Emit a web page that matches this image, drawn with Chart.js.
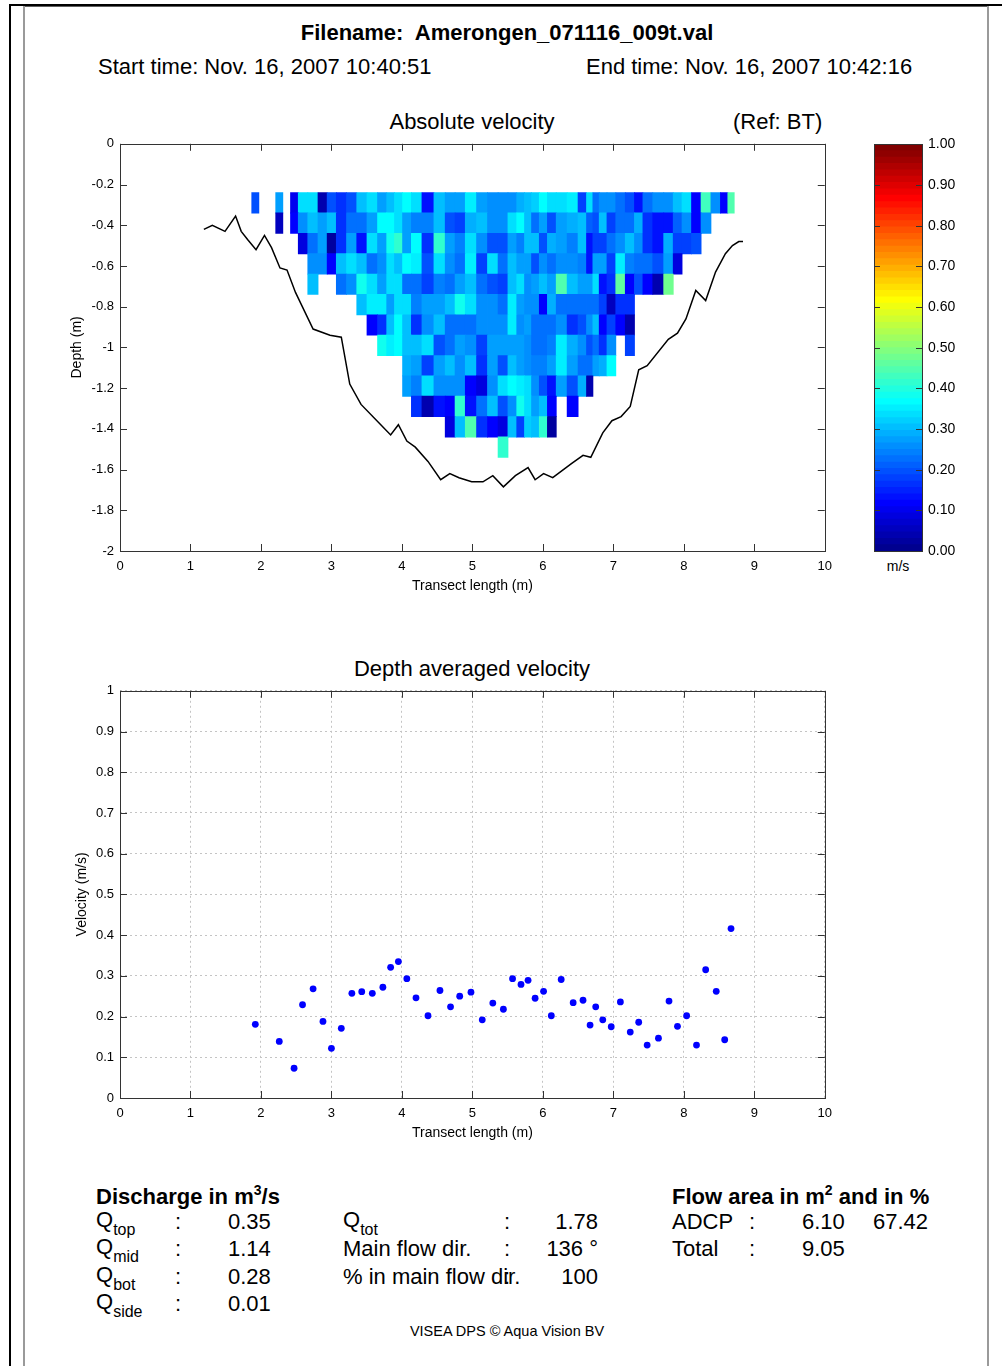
<!DOCTYPE html>
<html>
<head>
<meta charset="utf-8">
<title>Amerongen_071116_009t</title>
<script src="https://cdn.jsdelivr.net/npm/chart.js@4.4.1/dist/chart.umd.min.js"></script>
<style>
  body { margin: 0; background: #fff; }
  #page { position: relative; width: 1002px; height: 1366px; overflow: hidden; background: #fff;
          font-family: "Liberation Sans", Arial, sans-serif; color: #000; }
  .t { position: absolute; white-space: pre; line-height: 1; font-size: 22px; }
  .b { font-weight: bold; }
  .sub { font-size: 16px; position: relative; top: 8px; }
  .sup { font-size: 14px; position: relative; top: -9px; }
  .ln { position: absolute; }
  canvas { position: absolute; }
</style>
</head>
<body>
<div id="page">
  <!-- page frame -->
  <div class="ln" style="left:9px;top:4px;width:993px;height:2px;background:#000"></div>
  <div class="ln" style="left:9px;top:4px;width:2px;height:1362px;background:#000"></div>
  <div class="ln" style="left:23px;top:6px;width:966px;height:1px;background:#606060"></div>
  <div class="ln" style="left:23px;top:6px;width:2px;height:1360px;background:#9a9a9a"></div>
  <div class="ln" style="left:987px;top:6px;width:2px;height:1360px;background:#9a9a9a"></div>

  <!-- header -->
  <div class="t b" style="left:0;width:1014px;text-align:center;top:22px">Filename:  Amerongen_071116_009t.val</div>
  <div class="t" style="left:98px;top:56px">Start time: Nov. 16, 2007 10:40:51</div>
  <div class="t" style="left:586px;top:56px">End time: Nov. 16, 2007 10:42:16</div>

  <div class="t" style="left:0;width:944px;text-align:center;top:111px">Absolute velocity</div>
  <div class="t" style="left:733px;top:111px">(Ref: BT)</div>
  <div class="t" style="left:848px;width:100px;text-align:center;top:559px;font-size:14px">m/s</div>
  <div class="t" style="left:0;width:944px;text-align:center;top:658px">Depth averaged velocity</div>

  <canvas id="velChart" width="780" height="470" style="left:60px;top:130px"></canvas>
  <canvas id="barChart" width="120" height="460" style="left:860px;top:130px"></canvas>
  <canvas id="avgChart" width="780" height="470" style="left:60px;top:677px"></canvas>

  <!-- discharge table -->
  <div class="t b" style="left:96px;top:1186px">Discharge in m<span class="sup">3</span>/s</div>
  <div class="t" style="left:96px;top:1209px">Q<span class="sub">top</span></div>
  <div class="t" style="left:96px;top:1236px">Q<span class="sub">mid</span></div>
  <div class="t" style="left:96px;top:1264px">Q<span class="sub">bot</span></div>
  <div class="t" style="left:96px;top:1291px">Q<span class="sub">side</span></div>
  <div class="t" style="left:175px;top:1211px">:</div>
  <div class="t" style="left:175px;top:1238px">:</div>
  <div class="t" style="left:175px;top:1266px">:</div>
  <div class="t" style="left:175px;top:1293px">:</div>
  <div class="t" style="left:228px;top:1211px">0.35</div>
  <div class="t" style="left:228px;top:1238px">1.14</div>
  <div class="t" style="left:228px;top:1266px">0.28</div>
  <div class="t" style="left:228px;top:1293px">0.01</div>

  <div class="t" style="left:343px;top:1209px">Q<span class="sub">tot</span></div>
  <div class="t" style="left:343px;top:1238px">Main flow dir.</div>
  <div class="t" style="left:343px;top:1266px">% in main flow dir.</div>
  <div class="t" style="left:504px;top:1211px">:</div>
  <div class="t" style="left:504px;top:1238px">:</div>
  <div class="t" style="left:504px;top:1266px">:</div>
  <div class="t" style="left:498px;width:100px;text-align:right;top:1211px">1.78</div>
  <div class="t" style="left:498px;width:100px;text-align:right;top:1238px">136 °</div>
  <div class="t" style="left:498px;width:100px;text-align:right;top:1266px">100</div>

  <div class="t b" style="left:672px;top:1186px">Flow area in m<span class="sup">2</span> and in %</div>
  <div class="t" style="left:672px;top:1211px">ADCP</div>
  <div class="t" style="left:672px;top:1238px">Total</div>
  <div class="t" style="left:749px;top:1211px">:</div>
  <div class="t" style="left:749px;top:1238px">:</div>
  <div class="t" style="left:802px;top:1211px">6.10</div>
  <div class="t" style="left:873px;top:1211px">67.42</div>
  <div class="t" style="left:802px;top:1238px">9.05</div>

  <div class="t" style="left:0;width:1014px;text-align:center;top:1324px;font-size:14.5px">VISEA DPS © Aqua Vision BV</div>
</div>

<script>
// axis ticks
const lengthTicks = [0, 1, 2, 3, 4, 5, 6, 7, 8, 9, 10];
const depthTicks = [0, -0.2, -0.4, -0.6, -0.8, -1, -1.2, -1.4, -1.6, -1.8, -2];
const velTicks = [0, 0.1, 0.2, 0.3, 0.4, 0.5, 0.6, 0.7, 0.8, 0.9, 1];
const cbTicks = [0, 0.1, 0.2, 0.3, 0.4, 0.5, 0.6, 0.7, 0.8, 0.9, 1];

// ensemble positions along the transect (m) and depth averaged velocity (m/s)
const ensX = [1.92, 2.26, 2.47, 2.59, 2.74, 2.88, 3.00, 3.14, 3.29, 3.43,
              3.58, 3.73, 3.84, 3.95, 4.07, 4.20, 4.37, 4.54, 4.69, 4.82,
              4.98, 5.14, 5.29, 5.44, 5.57, 5.69, 5.79, 5.89, 6.01, 6.12,
              6.26, 6.43, 6.57, 6.67, 6.75, 6.85, 6.97, 7.10, 7.24, 7.36,
              7.48, 7.64, 7.79, 7.91, 8.04, 8.18, 8.31, 8.46, 8.58, 8.67];
const depthAvgVel = [0.181, 0.139, 0.073, 0.229, 0.268, 0.188, 0.122, 0.171, 0.257, 0.261,
                     0.257, 0.272, 0.321, 0.335, 0.293, 0.246, 0.202, 0.264, 0.224, 0.250,
                     0.260, 0.192, 0.233, 0.218, 0.293, 0.279, 0.289, 0.245, 0.262, 0.202,
                     0.291, 0.234, 0.240, 0.179, 0.224, 0.192, 0.175, 0.236, 0.162, 0.186,
                     0.130, 0.147, 0.238, 0.176, 0.202, 0.130, 0.315, 0.262, 0.143, 0.416];

// depth cells (centre, m) and the first ensemble that has a value in that cell
const cellDepth = [-0.29, -0.39, -0.49, -0.59, -0.69, -0.79, -0.89, -0.99, -1.09, -1.19, -1.29, -1.39, -1.49];
const rowStart = [0, 1, 3, 4, 4, 9, 10, 11, 14, 14, 15, 18, 23];

// absolute velocity per cell (m/s), one row per depth cell
const cellVel = [
  [0.19, 0.27, 0.10, 0.34, 0.33, 0.04, 0.20, 0.17, 0.20, 0.31, 0.33, 0.27, 0.31, 0.33, 0.37, 0.33, 0.13, 0.31, 0.27, 0.28, 0.35, 0.27,
   0.26, 0.25, 0.25, 0.29, 0.31, 0.32, 0.36, 0.33, 0.34, 0.35, 0.18, 0.33, 0.23, 0.25, 0.25, 0.23, 0.20, 0.14, 0.23, 0.25, 0.25, 0.31, 0.33, 0.11, 0.43, 0.25, 0.12, 0.45],
  [0.05, 0.12, 0.25, 0.31, 0.28, 0.31, 0.17, 0.22, 0.23, 0.27, 0.36, 0.36, 0.33, 0.27, 0.24, 0.24, 0.31, 0.20, 0.18, 0.29, 0.31,
   0.26, 0.26, 0.34, 0.36, 0.31, 0.23, 0.27, 0.20, 0.28, 0.29, 0.30, 0.21, 0.20, 0.30, 0.18, 0.23, 0.23, 0.29, 0.16, 0.14, 0.14, 0.21, 0.26, 0.12, 0.26],
  [0.08, 0.22, 0.27, 0.02, 0.17, 0.27, 0.13, 0.34, 0.28, 0.38, 0.42, 0.27, 0.37, 0.16, 0.41, 0.27, 0.24, 0.33, 0.26,
   0.20, 0.19, 0.27, 0.24, 0.31, 0.31, 0.20, 0.29, 0.27, 0.24, 0.31, 0.14, 0.18, 0.18, 0.22, 0.25, 0.31, 0.26, 0.16, 0.14, 0.29, 0.18, 0.18, 0.20],
  [0.25, 0.25, 0.11, 0.31, 0.34, 0.31, 0.23, 0.25, 0.33, 0.31, 0.36, 0.35, 0.20, 0.33, 0.25, 0.22, 0.35, 0.18,
   0.33, 0.22, 0.31, 0.27, 0.27, 0.20, 0.26, 0.22, 0.25, 0.25, 0.24, 0.13, 0.28, 0.27, 0.18, 0.35, 0.24, 0.23, 0.22, 0.20, 0.27, 0.08],
  [0.30, null, null, 0.22, 0.25, 0.38, 0.33, 0.28, 0.33, 0.33, 0.23, 0.22, 0.18, 0.24, 0.22, 0.27, 0.31, 0.22,
   0.20, 0.18, 0.31, 0.33, 0.26, 0.27, 0.31, 0.28, 0.44, 0.31, 0.28, 0.28, 0.33, 0.14, 0.16, 0.46, 0.12, 0.20, 0.11, 0.04, 0.48],
  [0.30, 0.35, 0.35, 0.28, 0.33, 0.34, 0.24, 0.27, 0.27, 0.30, 0.38, 0.33, 0.25,
   0.25, 0.22, 0.35, 0.27, 0.26, 0.26, 0.12, 0.29, 0.23, 0.23, 0.22, 0.23, 0.23, 0.18, 0.06, 0.16, 0.16],
  [0.11, 0.16, 0.31, 0.36, 0.31, 0.16, 0.25, 0.30, 0.22, 0.23, 0.23, 0.25,
   0.25, 0.25, 0.35, 0.25, 0.27, 0.23, 0.22, 0.23, 0.25, 0.16, 0.20, 0.25, 0.31, 0.12, 0.18, 0.11, 0.04],
  [0.38, 0.35, 0.36, 0.31, 0.31, 0.33, 0.20, 0.23, 0.27, 0.25, 0.18,
   0.27, 0.27, 0.27, 0.27, 0.26, 0.22, 0.23, 0.24, 0.35, 0.29, 0.26, 0.20, 0.23, 0.16, 0.25, null, 0.18],
  [0.29, 0.27, 0.18, 0.27, 0.31, 0.25, 0.30, 0.16,
   0.27, 0.20, 0.31, 0.27, 0.26, 0.24, 0.24, 0.27, 0.35, 0.27, 0.23, 0.23, 0.27, 0.29, 0.36],
  [0.27, 0.24, 0.33, 0.26, 0.26, 0.25, 0.12, 0.08,
   0.26, 0.33, 0.36, 0.35, 0.33, 0.25, 0.20, 0.14, 0.27, 0.20, 0.29, 0.04],
  [0.16, 0.04, 0.13, 0.12, 0.42, 0.14, 0.23,
   0.30, 0.20, 0.25, 0.38, 0.33, 0.27, 0.30, 0.11, null, 0.11],
  [0.08, 0.31, 0.44, 0.16, 0.12, 0.09, 0.31, 0.18, 0.32, 0.31, 0.41, 0.03],
  [0.42]
];

// bottom profile
const bedX = [1.19, 1.31, 1.49, 1.64, 1.72, 1.81, 1.93, 2.05, 2.15, 2.27, 2.37, 2.49, 2.74, 2.98,
              3.14, 3.26, 3.42, 3.70, 3.84, 3.95, 4.07, 4.19, 4.37, 4.55, 4.68, 4.81, 4.99, 5.15,
              5.29, 5.44, 5.61, 5.79, 5.89, 6.01, 6.14, 6.41, 6.57, 6.68, 6.85, 6.98, 7.11, 7.24,
              7.36, 7.48, 7.78, 7.91, 8.03, 8.17, 8.31, 8.45, 8.59, 8.69, 8.78, 8.84];
const bedY = [-0.42, -0.40, -0.43, -0.355, -0.43, -0.47, -0.52, -0.45, -0.51, -0.61, -0.62, -0.73, -0.91, -0.94,
              -0.95, -1.18, -1.28, -1.38, -1.43, -1.38, -1.46, -1.49, -1.56, -1.65, -1.62, -1.64, -1.66, -1.66,
              -1.63, -1.685, -1.63, -1.59, -1.65, -1.62, -1.64, -1.57, -1.53, -1.54, -1.42, -1.36, -1.34, -1.29,
              -1.11, -1.09, -0.96, -0.93, -0.86, -0.72, -0.77, -0.63, -0.54, -0.50, -0.48, -0.48];

Chart.defaults.font.family = '"Liberation Sans", Arial, sans-serif';
Chart.defaults.color = '#000';

// MATLAB jet(64), k = 1..64
function jet64(k) {
  const n = 16, u = [];
  for (let i = 1; i <= n; i++) u.push(i / n);
  for (let i = 1; i < n; i++) u.push(1);
  for (let i = n; i >= 1; i--) u.push(i / n);
  const ch = j => (j >= 1 && j <= u.length ? u[j - 1] : 0);
  const r = ch(k - 24), g = ch(k - 8), b = ch(k + 8);
  return `rgb(${Math.round(r * 255)},${Math.round(g * 255)},${Math.round(b * 255)})`;
}
function velColor(v) {
  const k = Math.min(64, Math.max(1, Math.floor(v * 64) + 1));
  return jet64(k);
}

// a cell reaches halfway to its neighbours, isolated ensembles get 0.1 m
function cellEdges(i) {
  const last = ensX.length - 1;
  const gapR = i < last ? ensX[i + 1] - ensX[i] : ensX[i] - ensX[i - 1];
  const gapL = i > 0 ? ensX[i] - ensX[i - 1] : gapR;
  const half = g => (g > 0.19 ? 0.05 : g / 2);
  return [ensX[i] - half(gapL), ensX[i] + half(gapR)];
}

const cells = [], cellColors = [];
cellVel.forEach((row, r) => {
  row.forEach((v, j) => {
    if (v === null) return;
    cells.push({ y: cellDepth[r], x: cellEdges(rowStart[r] + j) });
    cellColors.push(velColor(v));
  });
});

// box with inward tick marks, MATLAB style
const boxTicks = {
  id: 'boxTicks',
  afterDraw(chart, args, opts) {
    const { ctx, chartArea: a, scales } = chart;
    const len = opts.len;
    ctx.save();
    ctx.strokeStyle = opts.color;
    ctx.lineWidth = 1;
    ctx.beginPath();
    if (opts.xTicks) {
      scales.x.ticks.forEach(t => {
        const px = Math.round(scales.x.getPixelForValue(t.value)) + 0.5;
        ctx.moveTo(px, a.bottom); ctx.lineTo(px, a.bottom - len);
        ctx.moveTo(px, a.top); ctx.lineTo(px, a.top + len);
      });
    }
    scales.y.ticks.forEach(t => {
      const py = Math.round(scales.y.getPixelForValue(t.value)) + 0.5;
      ctx.moveTo(a.left, py); ctx.lineTo(a.left + len, py);
      ctx.moveTo(a.right, py); ctx.lineTo(a.right - len, py);
    });
    ctx.stroke();
    ctx.strokeRect(Math.round(a.left) + 0.5, Math.round(a.top) + 0.5,
                   Math.round(a.right - a.left), Math.round(a.bottom - a.top));
    ctx.restore();
  }
};

const tickFont = { size: 13 };
const titleFont = { size: 14 };

function xAxis(extra) {
  return Object.assign({
    type: 'linear', min: 0, max: 10, offset: false,
    afterBuildTicks: s => { s.ticks = lengthTicks.map(v => ({ value: v })); },
    afterFit: s => { s.height = 49; },
    ticks: { font: tickFont, padding: 8, callback: v => String(v) },
    title: { display: true, text: 'Transect length (m)', font: titleFont, padding: { top: 0, bottom: 5 } },
    grid: { display: false, drawTicks: false },
    border: { display: false }
  }, extra);
}

// absolute velocity section
new Chart(document.getElementById('velChart'), {
  type: 'bar',
  data: {
    datasets: [
      {
        type: 'line',
        data: bedX.map((x, i) => ({ x, y: bedY[i] })),
        borderColor: '#000', borderWidth: 1.5, pointRadius: 0, tension: 0, fill: false, order: 0
      },
      {
        type: 'bar',
        indexAxis: 'y',
        data: cells,
        backgroundColor: cellColors,
        borderWidth: 0, barPercentage: 1, categoryPercentage: 1, inflateAmount: 0.4, order: 1
      }
    ]
  },
  options: {
    responsive: false,
    animation: false,
    events: [],
    layout: { padding: { left: 0, top: 12, right: 15, bottom: 0 } },
    scales: {
      x: xAxis({ grid: { display: false, drawTicks: false, offset: false } }),
      y: {
        type: 'linear', min: -2, max: 0, offset: false,
        afterBuildTicks: s => { s.ticks = depthTicks.map(v => ({ value: v })); },
        afterFit: s => { s.width = 60; },
        ticks: { font: tickFont, padding: 6, callback: v => String(Math.round(v * 10) / 10) },
        title: { display: true, text: 'Depth (m)', font: titleFont, padding: { top: 9, bottom: 0 } },
        grid: { display: false, drawTicks: false, offset: false },
        border: { display: false }
      }
    },
    plugins: {
      legend: { display: false },
      tooltip: { enabled: false },
      boxTicks: { len: 7, color: '#333', xTicks: true }
    }
  },
  plugins: [boxTicks]
});

// colour bar
const bands = [];
for (let k = 1; k <= 64; k++) {
  bands.push({
    data: [[(k - 1) / 64, k / 64]],
    backgroundColor: jet64(k),
    borderWidth: 0, barPercentage: 1, categoryPercentage: 1, grouped: false, inflateAmount: 0.4
  });
}
new Chart(document.getElementById('barChart'), {
  type: 'bar',
  data: { labels: ['m/s'], datasets: bands },
  options: {
    responsive: false,
    animation: false,
    events: [],
    layout: { padding: { left: 14, top: 12, right: 8, bottom: 39 } },
    scales: {
      x: { type: 'category', display: false, offset: true },
      y: {
        type: 'linear', position: 'right', min: 0, max: 1,
        afterBuildTicks: s => { s.ticks = cbTicks.map(v => ({ value: v })); },
        afterFit: s => { s.width = 50; },
        ticks: { font: { size: 14 }, padding: 6, callback: v => v.toFixed(2) },
        grid: { display: false, drawTicks: false },
        border: { display: false }
      }
    },
    plugins: {
      legend: { display: false },
      tooltip: { enabled: false },
      boxTicks: { len: 6, color: '#333', xTicks: false }
    }
  },
  plugins: [boxTicks]
});

// depth averaged velocity
new Chart(document.getElementById('avgChart'), {
  type: 'scatter',
  data: {
    datasets: [{
      data: ensX.map((x, i) => ({ x, y: depthAvgVel[i] })),
      pointStyle: 'circle', pointRadius: 3.4, pointBackgroundColor: '#0000ff', pointBorderWidth: 0
    }]
  },
  options: {
    responsive: false,
    animation: false,
    events: [],
    layout: { padding: { left: 0, top: 12, right: 15, bottom: 0 } },
    scales: {
      x: xAxis({
        grid: { display: true, drawTicks: false, color: '#c4c4c4', lineWidth: 1 },
        border: { display: false, dash: [2, 3] }
      }),
      y: {
        type: 'linear', min: 0, max: 1, offset: false,
        afterBuildTicks: s => { s.ticks = velTicks.map(v => ({ value: v })); },
        afterFit: s => { s.width = 60; },
        ticks: { font: tickFont, padding: 6, callback: v => String(Math.round(v * 10) / 10) },
        title: { display: true, text: 'Velocity (m/s)', font: titleFont, padding: { top: 14, bottom: 0 } },
        grid: { display: true, drawTicks: false, color: '#c4c4c4', lineWidth: 1 },
        border: { display: false, dash: [2, 3] }
      }
    },
    plugins: {
      legend: { display: false },
      tooltip: { enabled: false },
      boxTicks: { len: 7, color: '#333', xTicks: true }
    }
  },
  plugins: [boxTicks]
});
</script>
</body>
</html>
